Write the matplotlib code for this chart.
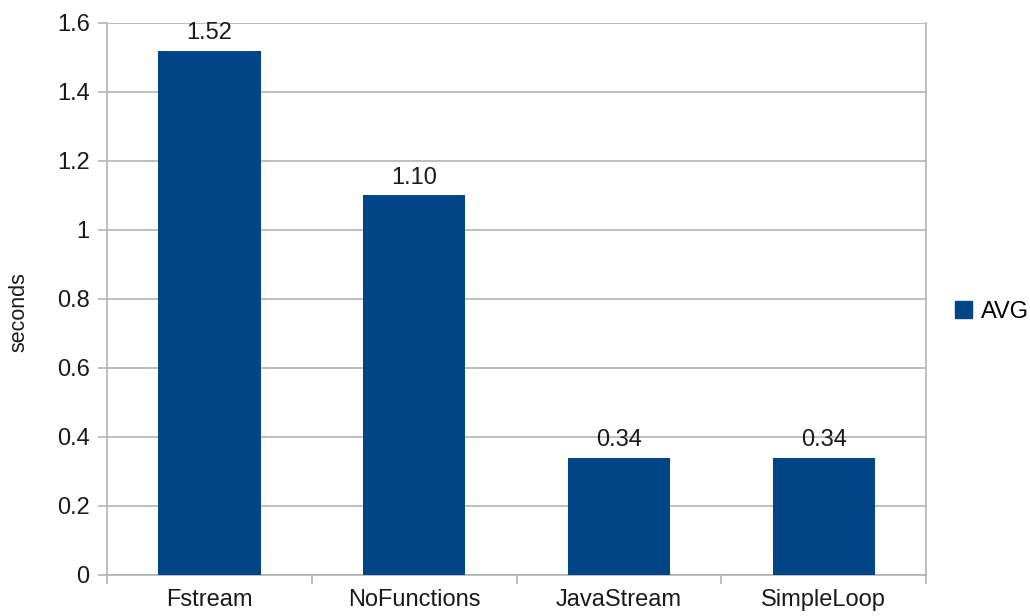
import numpy as np
import matplotlib
matplotlib.use("Agg")
from matplotlib import pyplot as plt
from matplotlib.patches import Patch

# benchmark results (seconds)
categories = ["Fstream", "NoFunctions", "JavaStream", "SimpleLoop"]
avg = [1.52, 1.10, 0.34, 0.34]
yticks = [0, 0.2, 0.4, 0.6, 0.8, 1, 1.2, 1.4, 1.6]
ytick_labels = ["0", "0.2", "0.4", "0.6", "0.8", "1", "1.2", "1.4", "1.6"]

plt.rcParams['font.family'] = ['Liberation Sans', 'DejaVu Sans']
bar_color = "#004586"
line_color = "#b3b3b3"
text_color = "#1a1a1a"

fig = plt.figure(figsize=(10.30, 6.16), dpi=100)
ax = fig.add_axes([0.1039, 0.0666, 0.7952, 0.8961])

x = np.arange(len(categories))
ax.bar(x, avg, width=0.5, color=bar_color, zorder=3)

# value labels over the bars
for xi, v in zip(x, avg):
    ax.text(xi, v + 0.02, "%.2f" % v, ha="center", va="bottom",
            fontsize=17, color=text_color)

ax.set_xlim(-0.5, len(categories) - 0.5)
ax.set_ylim(0, 1.6)

ax.set_yticks(yticks)
ax.set_yticklabels(ytick_labels)
ax.yaxis.grid(True, color=line_color, linewidth=1.2, zorder=0)
ax.tick_params(axis="y", length=6.5, width=1.2, color=line_color,
               labelsize=17, labelcolor=text_color, pad=6)

# category labels at centres, tick marks at the boundaries
ax.set_xticks(x)
ax.set_xticklabels(categories)
ax.set_xticks(np.arange(-0.5, len(categories)), minor=True)
ax.tick_params(axis="x", which="major", length=0, labelsize=17,
               labelcolor=text_color, pad=10)
ax.tick_params(axis="x", which="minor", length=6.5, width=1.2, color=line_color)

for side in ["left", "bottom", "right"]:
    ax.spines[side].set_color(line_color)
    ax.spines[side].set_linewidth(1.2)
ax.spines["top"].set_visible(False)

ax.set_ylabel("seconds", fontsize=15.5, color=text_color)
ax.yaxis.set_label_coords(-0.095, 0.476)

fig.legend(handles=[Patch(color=bar_color, label="AVG")],
           loc="center left", bbox_to_anchor=(0.918, 0.494),
           frameon=False, fontsize=17, handlelength=0.7, handleheight=0.7,
           handletextpad=0.4, borderaxespad=0)

fig.savefig("out.png", dpi=100)
